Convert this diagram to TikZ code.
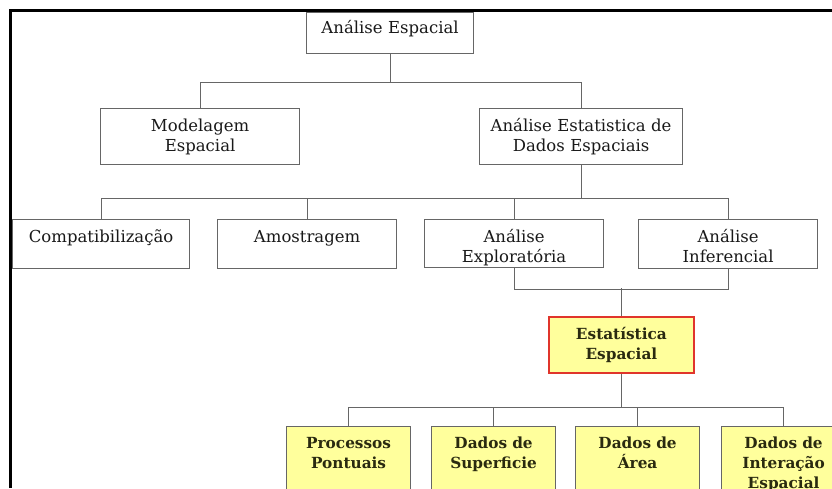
\documentclass[tikz,border=0pt]{standalone}
\usepackage{fontspec}
\setmainfont{DejaVu Serif}
\definecolor{linegray}{HTML}{666666}
\definecolor{boxyellow}{HTML}{FFFF9C}
\definecolor{redline}{HTML}{E0352B}
\definecolor{textolive}{HTML}{2A2A10}
\begin{document}
\begin{tikzpicture}[
  x=1pt,y=-1pt,
  font=\fontsize{16.5}{20}\selectfont,
  link/.style={draw=linegray,line width=1.2pt},
  wbox/.style={draw=linegray,fill=white,line width=1.2pt,anchor=north west,align=center,inner sep=0pt,text height=23pt,text=black!90},
  ybox/.style={wbox,fill=boxyellow,font=\fontsize{15.3}{20}\selectfont\bfseries,text=textolive},
  rbox/.style={ybox,draw=redline,line width=1.8pt},
]
\useasboundingbox (0,0) rectangle (832,488);
\clip (0,0) rectangle (832,488);

% ---- Root
\node[wbox,text width=167pt,text height=21pt,text depth=20pt] (AE) at (306,12) {Análise Espacial};

% ---- Second level
\node[wbox,text width=199pt,text depth=33pt] (ME)  at (100,108) {Modelagem\\Espacial};
\node[wbox,text width=203pt,text depth=33pt] (AED) at (479,108) {Análise Estatistica de\\Dados Espaciais};

% ---- Third level
\node[wbox,text width=177pt,text depth=26pt] (CP) at (12,219)  {Compatibilização};
\node[wbox,text width=179pt,text depth=26pt] (AM) at (217,219) {Amostragem};
\node[wbox,text width=179pt,text depth=25pt] (AX) at (424,219) {Análise\\Exploratória};
\node[wbox,text width=179pt,text depth=26pt] (AI) at (638,219) {Análise\\Inferencial};

% ---- Spatial statistics
\node[rbox,text width=145pt,text depth=33pt] (EE) at (548,316) {Estatística\\Espacial};

% ---- Data types (bottom row)
\node[ybox,text width=124pt,text height=22pt,text depth=58pt] (PP) at (286,426) {Processos\\Pontuais};
\node[ybox,text width=124pt,text height=22pt,text depth=58pt] (DS) at (431,426) {Dados de\\Superficie};
\node[ybox,text width=124pt,text height=22pt,text depth=58pt] (DA) at (575,426) {Dados de\\Área};
\node[ybox,text width=124pt,text height=22pt,text depth=58pt] (DI) at (721,426) {Dados de\\Interação\\Espacial};

% ---- Connectors
\draw[link] (AE.south) -- ++(0,28) -| (ME.north);
\draw[link] (AE.south) -- ++(0,28) -| (AED.north);

\draw[link] (AED.south) -- ++(0,33) -| (CP.north);
\draw[link] (AED.south) -- ++(0,33) -| (AM.north);
\draw[link] (AED.south) -- ++(0,33) -| (AX.north);
\draw[link] (AED.south) -- ++(0,33) -| (AI.north);

\draw[link] (AX.south) -- ++(0,21) -| (AI.south);
\draw[link] (EE.north) -- ++(0,-28);

\draw[link] (EE.south) -- ++(0,34) -| (PP.north);
\draw[link] (EE.south) -- ++(0,34) -| (DS.north);
\draw[link] (EE.south) -- ++(0,34) -| (DA.north);
\draw[link] (EE.south) -- ++(0,34) -| (DI.north);

% ---- Frame
\draw[line width=3pt] (10.5,488) -- (10.5,10.5) -- (832,10.5);

\end{tikzpicture}
\end{document}
